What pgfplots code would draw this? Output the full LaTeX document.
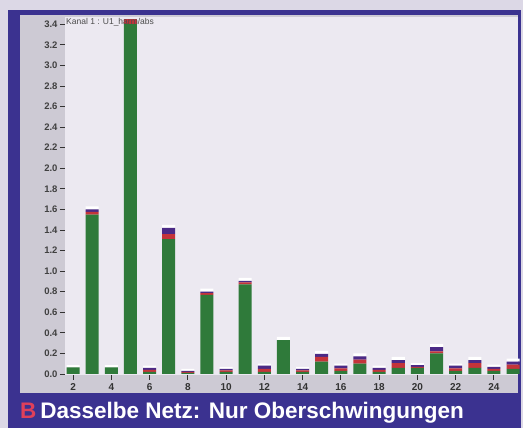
\documentclass[border=0pt]{standalone}
\usepackage{pgfplots}
\pgfplotsset{compat=1.18}
\usepackage{fontspec}
\setmainfont{Liberation Sans}
\definecolor{bgout}{HTML}{DCD8E6}
\definecolor{framec}{HTML}{3B3290}
\definecolor{plotbg}{HTML}{ECE9F1}
\definecolor{grayc}{HTML}{CDCAD4}
\definecolor{bgreen}{HTML}{2F7A3A}
\definecolor{bred}{HTML}{C4343A}
\definecolor{bpurp}{HTML}{4B2A86}
\definecolor{lblred}{HTML}{E0405A}
\begin{document}
\begin{tikzpicture}[x=1pt,y=1pt]
\fill[bgout] (0,0) rectangle (523,428);
\fill[framec] (8,0) rectangle (521,418);
\fill[grayc] (20,35) rectangle (518,413);
\fill[plotbg] (65,53) rectangle (518,411);
\begin{axis}[
  at={(65pt,53pt)}, anchor=south west,
  scale only axis, width=453pt, height=358pt,
  xmin=1.58, xmax=25.26, ymin=-0.01, ymax=3.47,
  axis line style={draw=none}, clip=false,
  ybar stacked, bar width=0.68,
  xtick={2,4,...,24},
  xticklabels={2,4,6,8,10,12,14,16,18,20,22,24},
  ytick={0,0.2,...,3.41},
  tick align=outside, major tick length=5pt,
  tick style={black!80, line width=0.8pt},
  xtick pos=bottom, ytick pos=left,
  yticklabel style={font=\bfseries\fontsize{9.5}{9.5}\selectfont, text=black!75, xshift=1pt},
  xticklabel style={font=\bfseries\fontsize{10}{10}\selectfont, text=black!80},
  /pgf/number format/assume math mode=true,
  /pgf/number format/.cd, fixed, fixed zerofill, precision=1,
]
\node[anchor=north west, font=\fontsize{8.5}{8.5}\selectfont, text=black!70, inner sep=1pt]
  at (rel axis cs:0,1) {Kanal 1 : U1\_harm/abs};
% green
\addplot[fill=bgreen, draw=none] coordinates {
(2,0.065) (3,1.55) (4,0.065) (5,3.40) (6,0.02) (7,1.31) (8,0.01) (9,0.77)
(10,0.02) (11,0.87) (12,0.02) (13,0.33) (14,0.02) (15,0.12) (16,0.03)
(17,0.10) (18,0.02) (19,0.06) (20,0.06) (21,0.20) (22,0.03) (23,0.06)
(24,0.03) (25,0.05)};
% red
\addplot[fill=bred, draw=none] coordinates {
(2,0) (3,0.025) (4,0) (5,0.05) (6,0.02) (7,0.05) (8,0.01) (9,0.015)
(10,0.015) (11,0.02) (12,0.03) (13,0) (14,0.015) (15,0.045) (16,0.025)
(17,0.04) (18,0.02) (19,0.045) (20,0.01) (21,0.02) (22,0.025) (23,0.045)
(24,0.02) (25,0.04)};
% purple
\addplot[fill=bpurp, draw=none] coordinates {
(2,0) (3,0.025) (4,0) (5,0) (6,0.02) (7,0.06) (8,0.01) (9,0.015)
(10,0.015) (11,0.015) (12,0.03) (13,0) (14,0.015) (15,0.03) (16,0.025)
(17,0.03) (18,0.02) (19,0.03) (20,0.015) (21,0.04) (22,0.025) (23,0.03)
(24,0.02) (25,0.03)};
% white highlight
\addplot[fill=white, draw=none] coordinates {
(2,0.02) (3,0.03) (4,0.02) (5,0) (6,0.02) (7,0.03) (8,0.02) (9,0.03)
(10,0.02) (11,0.03) (12,0.02) (13,0.03) (14,0.02) (15,0.03) (16,0.02)
(17,0.03) (18,0.02) (19,0.03) (20,0.02) (21,0.03) (22,0.02) (23,0.03)
(24,0.02) (25,0.03)};
\end{axis}
\node[anchor=base west, font=\bfseries\fontsize{22.5}{22.5}\selectfont, text=white, inner sep=0pt] at (20,9)
  {{\color{lblred}B}\hspace{4pt}Dasselbe Netz: Nur Oberschwingungen};
\end{tikzpicture}
\end{document}
